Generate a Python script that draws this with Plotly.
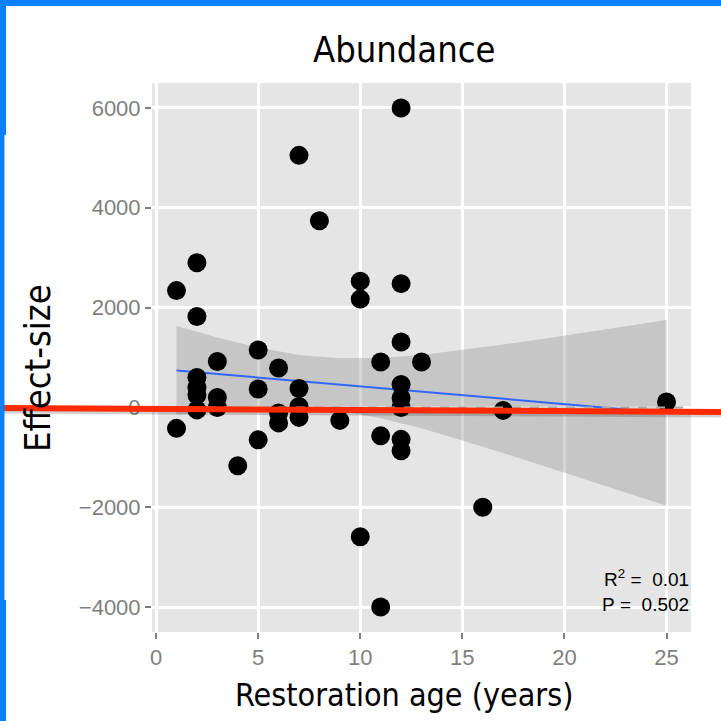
import plotly.graph_objects as go

# ---- data ----
age = [1, 1,
       2, 2, 2, 2, 2, 2,
       3, 3, 3,
       4,
       5, 5, 5,
       6, 6, 6,
       7, 7, 7, 7,
       8,
       9,
       10, 10, 10,
       11, 11, 11,
       12, 12, 12, 12, 12, 12, 12, 12,
       13, 16, 17, 25]
effect = [2340, -420,
          2900, 1820, 600, 400, 250, -50,
          920, 200, 0,
          -1170,
          1150, 370, -650,
          790, -110, -310,
          5050, 380, 20, -200,
          3740,
          -260,
          2530, 2170, -2590,
          910, -570, -4000,
          6000, 2480, 1310, 460, 190, 0, -640, -870,
          910, -2000, -60, 110]

# linear fit and its 95% confidence band
fit_x = [1, 3, 5, 7, 9, 11, 13, 15, 17, 19, 21, 23, 25]
fit_y = [740, 669, 598, 528, 457, 386, 315, 244, 174, 103, 32, -40, -110]
ci_hi = [1630, 1400, 1200, 1050, 985, 990, 1050, 1150, 1260, 1375, 1500, 1625, 1750]
ci_lo = [-150, -62, -4, 6, -71, -218, -420, -662, -912, -1169, -1436, -1705, -1970]

x_ticks = [0, 5, 10, 15, 20, 25]
y_ticks = [-4000, -2000, 0, 2000, 4000, 6000]
stats_text = "R<sup>2</sup>\u00a0=\u00a0\u00a00.01<br>P\u00a0=\u00a0\u00a00.502"

# layout geometry (pixels)
W = H = 721
L, R, T, B = 152, 30, 83, 89
pw, ph = W - L - R, H - T - B
def px(xp):
    return (xp - L) / pw
def py(yp):
    return (H - B - yp) / ph

fig = go.Figure()
fig.add_trace(go.Scatter(x=fit_x + fit_x[::-1], y=ci_hi + ci_lo[::-1],
                         fill="toself", fillcolor="rgba(153,153,153,0.4)", line=dict(width=0),
                         mode="lines", hoverinfo="skip", showlegend=False))
fig.add_trace(go.Scatter(x=fit_x, y=fit_y, mode="lines", line=dict(color="#3366FF", width=2),
                         showlegend=False))
fig.add_trace(go.Scatter(x=age, y=effect, mode="markers",
                         marker=dict(color="black", size=19, line=dict(width=0)),
                         showlegend=False))

# dashed reference at zero
fig.add_shape(type="line", xref="paper", yref="y", x0=0, x1=1, y0=0, y1=0,
              line=dict(color="#AAAAAA", width=2, dash="dash"))

tickfont = dict(family="Liberation Sans, Arial", size=22, color="#7F7F7F")
fig.update_xaxes(range=[-0.2, 26.2], tickvals=x_ticks, ticks="outside", ticklen=6, tickwidth=2,
                 tickcolor="#7F7F7F", tickfont=tickfont, showgrid=True, gridcolor="white",
                 gridwidth=2.5, zeroline=False, showline=False)
fig.update_yaxes(range=[-4500, 6500], tickvals=y_ticks, ticks="outside", ticklen=6, tickwidth=2,
                 tickcolor="#7F7F7F", tickfont=tickfont, showgrid=True, gridcolor="white",
                 gridwidth=2.5, zeroline=False, showline=False)

fam = "DejaVu Sans Condensed, DejaVu Sans"
ann = [
    dict(text="Abundance", x=px(404), y=py(50), xref="paper", yref="paper",
         showarrow=False, font=dict(family=fam, size=36, color="black"),
         xanchor="center", yanchor="middle"),
    dict(text="Restoration age (years)", x=px(404), y=py(695), xref="paper", yref="paper",
         showarrow=False, font=dict(family=fam, size=32, color="black"),
         xanchor="center", yanchor="middle"),
    dict(text="Effect-size", x=px(37), y=py(368), xref="paper", yref="paper", textangle=-90,
         showarrow=False, font=dict(family=fam, size=36, color="black"),
         xanchor="center", yanchor="middle"),
    dict(text=stats_text, x=px(691), y=py(617), xref="paper", yref="paper",
         showarrow=False, align="right", xanchor="right", yanchor="bottom",
         font=dict(family="Liberation Sans, Arial", size=19, color="black")),
]

shapes = [
    # shadow + red annotation line
    dict(type="line", xref="paper", yref="paper", x0=px(-2), x1=px(723), y0=py(411), y1=py(415),
         line=dict(color="rgba(0,0,0,0.18)", width=5), layer="above"),
    dict(type="line", xref="paper", yref="paper", x0=px(-2), x1=px(723), y0=py(408), y1=py(412),
         line=dict(color="#FF2A00", width=6), layer="above"),
    # blue frame
    dict(type="rect", xref="paper", yref="paper", x0=px(-2), x1=px(723), y0=py(6), y1=py(-2),
         fillcolor="#0A80FF", line=dict(width=0), layer="above"),
    dict(type="rect", xref="paper", yref="paper", x0=px(-2), x1=px(6), y0=py(135), y1=py(-2),
         fillcolor="#0A80FF", line=dict(width=0), layer="above"),
    dict(type="rect", xref="paper", yref="paper", x0=px(-2), x1=px(4.5), y0=py(600), y1=py(135),
         fillcolor="#0A80FF", line=dict(width=0), layer="above"),
    dict(type="rect", xref="paper", yref="paper", x0=px(-2), x1=px(6), y0=py(723), y1=py(600),
         fillcolor="#0A80FF", line=dict(width=0), layer="above"),
]
for sh in shapes:
    fig.add_shape(**sh)

fig.update_layout(width=W, height=H, margin=dict(l=L, r=R, t=T, b=B),
                  paper_bgcolor="white", plot_bgcolor="#E5E5E5", annotations=ann,
                  showlegend=False)
fig.write_html("out.html")
